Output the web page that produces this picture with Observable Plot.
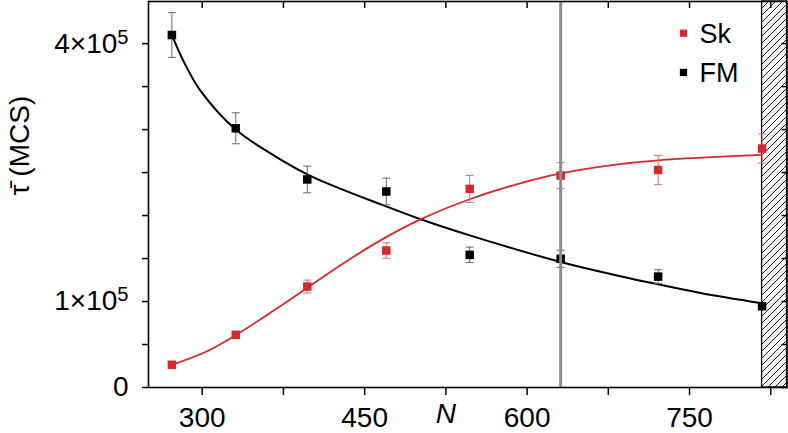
<!DOCTYPE html>
<html><head><meta charset="utf-8">
<script src="https://cdn.jsdelivr.net/npm/d3@7"></script>
<script src="https://cdn.jsdelivr.net/npm/@observablehq/plot@0.6"></script>
<style>body{margin:0;background:#fff;}</style>
</head><body><div id="chart"></div>
<script>
// ---- data ----
const N = [272, 331, 397, 470, 547, 631, 721, 817];
const skTau = [26400, 61300, 117400, 159300, 231000, 246500, 253000, 278000];
const skErr = [1000, 2000, 7500, 9000, 15700, 15000, 17000, 17000];
const fmTau = [410000, 301500, 242000, 228000, 154300, 149700, 129000, 94500];
const fmErr = [26000, 18000, 15500, 15500, 9000, 10000, 8000, 3000];

const fmFitN = [272, 283, 298, 331, 366, 397, 428, 465, 501, 547, 631, 686, 721, 760, 817];
const fmFit  = [410000, 379000, 346000, 300000, 270000, 248000, 231000, 213000, 196000, 177000, 146000, 129500, 120000, 110000, 98000];
const skFitN = [272, 305, 331, 366, 397, 428, 465, 501, 547, 588, 631, 680, 721, 817];
const skFit  = [26400, 42500, 61000, 89500, 115800, 142500, 171400, 195200, 219000, 235500, 249000, 259000, 264300, 270500];

const seriesNames = ["Sk", "FM"];
const xTicks = [300, 375, 450, 525, 600, 675, 750, 825];
const xTickLabels = {300: "300", 450: "450", 600: "600", 750: "750"};
const xAxisTitle = [{at: 525, text: "N"}];
const yTicks = [0, 50000, 100000, 150000, 200000, 250000, 300000, 350000, 400000];
const yTickLabels = {0: "0", 100000: "1×10⁵", 400000: "4×10⁵"};
const yAxisTitle = "τ̄ (MCS)";
const markerN = [631];
const hatchRegion = [{x1: 817, x2: 840}];
const xDomain = [250.4, 840];
const yDomain = [0, 449000];

// ---- styling ----
const RED = "#d42a2e", RED_ERR = "#e26a6a", BLACK = "#000", GREY_ERR = "#666";
const font = "'Liberation Sans', Arial, Helvetica, sans-serif";

const rows = (tau, err, s) => N.map((n, i) => ({n, tau: tau[i], lo: tau[i] - err[i], hi: tau[i] + err[i], s}));
const sk = rows(skTau, skErr, "Sk");
const fm = rows(fmTau, fmErr, "FM");
const skLine = skFitN.map((n, i) => ({n, v: skFit[i]}));
const fmLine = fmFitN.map((n, i) => ({n, v: fmFit[i]}));

const cap = {draw(ctx) { ctx.moveTo(-4, 0); ctx.lineTo(4, 0); }};

const errMarks = (data, color) => [
  Plot.ruleX(data, {x: "n", y1: "lo", y2: "hi", stroke: color, strokeWidth: 1}),
  Plot.dot(data, {x: "n", y: "lo", symbol: cap, r: 4, stroke: color, fill: "none", strokeWidth: 1}),
  Plot.dot(data, {x: "n", y: "hi", symbol: cap, r: 4, stroke: color, fill: "none", strokeWidth: 1})
];

const svg = Plot.plot({
  width: 788, height: 433,
  marginLeft: 148, marginRight: 1.5, marginTop: 1, marginBottom: 46,
  style: {fontFamily: font, fontSize: "28px", color: "black", background: "white"},
  x: {domain: xDomain, label: null},
  y: {domain: yDomain, label: null},
  marks: [
    Plot.rect(hatchRegion, {x1: "x1", x2: "x2", fill: "url(#hatch)", stroke: "black", strokeWidth: 1.3}),
    Plot.line(fmLine, {x: "n", y: "v", stroke: BLACK, strokeWidth: 2, curve: "catmull-rom"}),
    Plot.line(skLine, {x: "n", y: "v", stroke: RED, strokeWidth: 1.8, curve: "catmull-rom"}),
    ...errMarks(fm, GREY_ERR),
    ...errMarks(sk, RED_ERR),
    Plot.dot(fm, {x: "n", y: "tau", symbol: "square", r: 4.8, fill: BLACK, stroke: "none"}),
    Plot.dot(sk, {x: "n", y: "tau", symbol: "square", r: 4.8, fill: RED, stroke: "none"}),
    Plot.ruleX(markerN, {stroke: "#8c8c8c", strokeWidth: 3}),
    // legend
    Plot.dot([seriesNames[0]], {frameAnchor: "top-right", dx: -103.5, dy: 31.7, symbol: "square", r: 4.1, fill: RED, stroke: "none"}),
    Plot.dot([seriesNames[1]], {frameAnchor: "top-right", dx: -103.5, dy: 71, symbol: "square", r: 4.1, fill: BLACK, stroke: "none"}),
    Plot.text([seriesNames[0]], {frameAnchor: "top-right", dx: -87.5, dy: 32.5, lineAnchor: "middle", text: d => d, textAnchor: "start", fontSize: 27}),
    Plot.text([seriesNames[1]], {frameAnchor: "top-right", dx: -87.5, dy: 71.5, lineAnchor: "middle", text: d => d, textAnchor: "start", fontSize: 27}),
    // axis titles
    Plot.text(xAxisTitle, {x: "at", frameAnchor: "bottom", dy: 27, lineAnchor: "middle", text: "text", fontStyle: "italic", fontSize: 28}),
    Plot.text([yAxisTitle], {frameAnchor: "left", dx: -128, dy: 1, rotate: -90, text: d => d, fontSize: 28}),
    Plot.frame({stroke: "black", strokeWidth: 1.6}),
    Plot.axisY({ticks: yTicks, tickSize: 6, tickPadding: 14, strokeWidth: 1.5, tickFormat: d => yTickLabels[d] ?? "", fontSize: 28, label: null}),
    Plot.axisY({anchor: "right", ticks: yTicks, tickSize: 6, insetRight: 6, strokeWidth: 1.5, tickFormat: () => "", label: null}),
    Plot.axisX({ticks: xTicks, tickSize: 8, tickPadding: 12, strokeWidth: 1.5, tickFormat: d => xTickLabels[d] ?? "", fontSize: 28, label: null}),
    Plot.axisX({anchor: "top", ticks: xTicks, tickSize: 6, insetTop: 6, strokeWidth: 1.5, tickFormat: () => "", label: null})
  ]
});

d3.select(svg).insert("defs", ":first-child").html(
  '<pattern id="hatch" patternUnits="userSpaceOnUse" width="7" height="7">' +
  '<path d="M-1,1 L1,-1 M0,7 L7,0 M6,8 L8,6" stroke="#000" stroke-width="0.9"/></pattern>');

// render the exponent as a raised, smaller superscript
d3.select(svg).selectAll("text").each(function () {
  const t = this.textContent;
  if (t.endsWith("⁵")) {
    this.textContent = t.slice(0, -1);
    d3.select(this).append("tspan").attr("dy", "-0.45em").attr("font-size", "0.72em").text("5");
  }
});

document.getElementById("chart").appendChild(svg);
</script>
</body></html>
